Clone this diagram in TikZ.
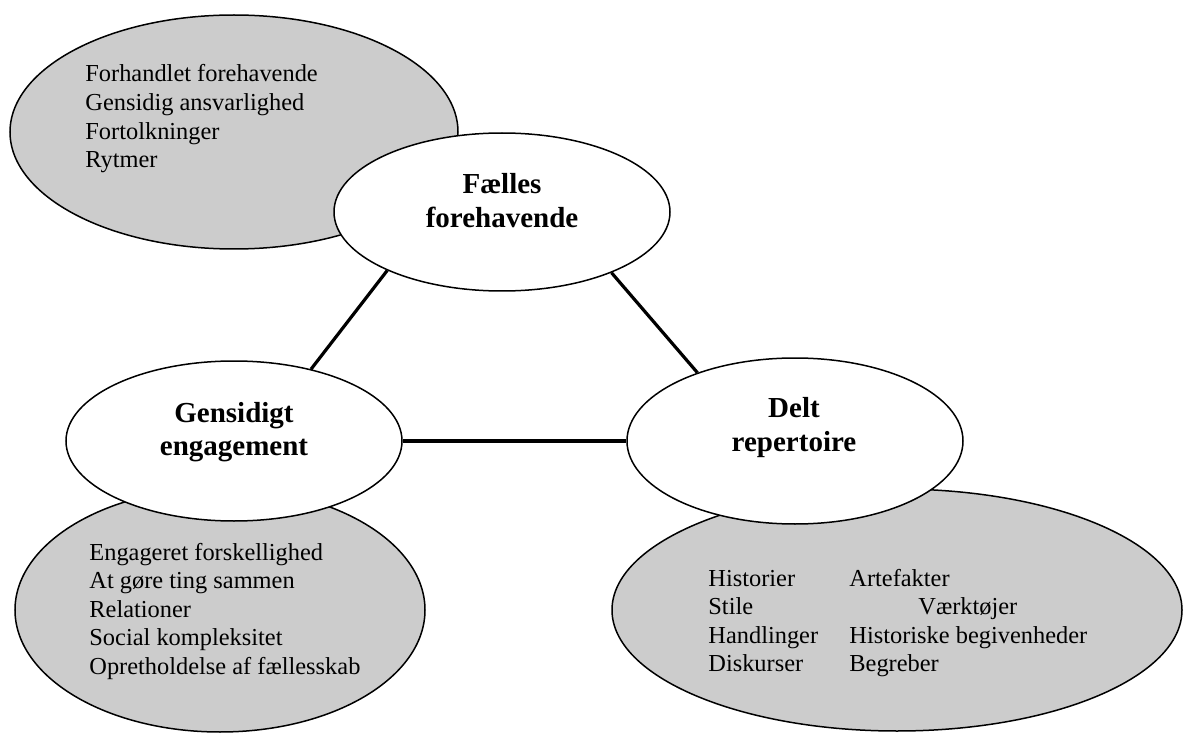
\documentclass[tikz,border=0pt]{standalone}
\usepackage{fontspec}
\setmainfont{Liberation Serif}
\usetikzlibrary{shapes.geometric}
\definecolor{fieldgrey}{gray}{0.8}
\begin{document}
\begin{tikzpicture}[x=0.5pt,y=-0.5pt,
  field/.style={ellipse, draw=black, line width=0.75pt, fill=fieldgrey, inner sep=0pt},
  hub/.style={ellipse, draw=black, line width=0.75pt, fill=white, inner sep=0pt},
  link/.style={line width=1.6pt},
  items/.style={font=\fontsize{12.2}{14.3}\selectfont, anchor=base west, inner sep=0pt},
  hubtext/.style={font=\fontsize{14.5}{17}\selectfont\bfseries, anchor=base, inner sep=0pt}]
\useasboundingbox (0,0) rectangle (1185,733);

% grey fields behind the three hubs
\node[field, minimum width=224pt, minimum height=117pt] (fieldA) at (234,132) {};
\node[field, minimum width=205pt, minimum height=122pt] (fieldB) at (220,610) {};
\node[field, minimum width=285pt, minimum height=121pt] (fieldC) at (897,610) {};

% the three hubs
\node[hub, minimum width=168pt, minimum height=79pt] (faelles) at (502,212) {};
\node[hub, minimum width=168pt, minimum height=80pt] (gensidigt) at (234,441) {};
\node[hub, minimum width=168pt, minimum height=83pt] (delt) at (795,441) {};

% connectors between the hubs
\draw[link] (faelles.207) -- (gensidigt.43);
\draw[link] (faelles.331) -- (delt.145);
\draw[link] (gensidigt.east) -- (delt.west);

% hub labels
\node[hubtext] (faellesT) at (502,194) {\begin{tabular}[t]{@{}c@{}}Fælles\\forehavende\end{tabular}};
\node[hubtext] (gensidigtT) at (234,422) {\begin{tabular}[t]{@{}c@{}}Gensidigt\\engagement\end{tabular}};
\node[hubtext] (deltT) at (794,417) {\begin{tabular}[t]{@{}c@{}}Delt\\repertoire\end{tabular}};

% item lists in the grey fields
\node[items] (listA) at (85,82) {\begin{tabular}[t]{@{}l@{}}Forhandlet forehavende\\Gensidig ansvarlighed\\Fortolkninger\\Rytmer\end{tabular}};
\node[items] (listB) at (89,560) {\begin{tabular}[t]{@{}l@{}}Engageret forskellighed\\At gøre ting sammen\\Relationer\\Social kompleksitet\\Opretholdelse af fællesskab\end{tabular}};
\node[items] (listC1) at (708,586) {\begin{tabular}[t]{@{}l@{}}Historier\\Stile\\Handlinger\\Diskurser\end{tabular}};
\node[items] (listC2) at (849,586) {\begin{tabular}[t]{@{}l@{}}Artefakter\\\hspace*{34.5pt}Værktøjer\\Historiske begivenheder\\Begreber\end{tabular}};
\end{tikzpicture}
\end{document}
